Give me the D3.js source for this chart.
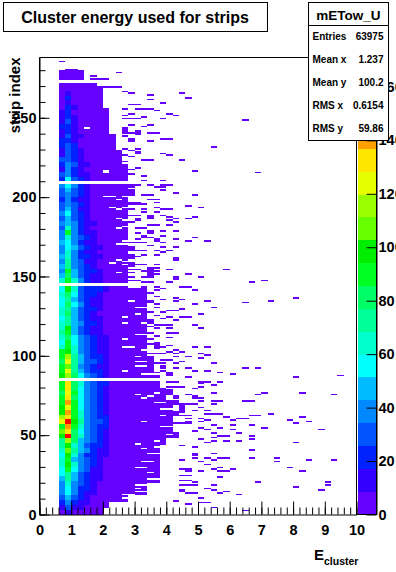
<!DOCTYPE html>
<html>
<head>
<meta charset="utf-8">
<style>
  body { margin: 0; background: #fff; overflow: hidden; }
  text { font-family: "Liberation Sans", Arial, sans-serif; font-weight: bold; fill: #000; }
</style>
<script src="https://cdn.jsdelivr.net/npm/d3@7"></script>
</head>
<body>
<div id="chart"></div>
<script type="text/javascript">
  var titleText = "Cluster energy used for strips";
  var statsName = "mETow_U";
  var statsLabels = ["Entries", "Mean x", "Mean y", "RMS x", "RMS y"];
  var statsValues = ["63975", "1.237", "100.2", "0.6154", "59.86"];

  var binE = 0.2;          // energy width of one bin
  var maxE = 10;
  var maxStrip = 288;
  var maxZ = 171;
  var baseZ = 4;           // counts of the violet fringe cells

  var xTicks = [0, 1, 2, 3, 4, 5, 6, 7, 8, 9, 10];
  var yTicks = [0, 50, 100, 150, 200, 250];
  var zTicks = [0, 20, 40, 60, 80, 100, 120, 140, 160];

  var palette = ["#6600ff", "#3300ff", "#0022ff", "#0055ff", "#0088ff", "#00bbff", "#00ffff",
    "#00ffcc", "#00ff99", "#00ff66", "#00ff22", "#00ee00", "#66ff00", "#99ff00",
    "#e6ff00", "#ffe600", "#ffa000", "#ff7000", "#ff4000", "#ff0000"];

  var emptyStrips = [84, 85, 144, 145, 208, 209, 272, 273];

  // first strip of each band of the dense part
  var coreStrips = [0, 3, 6, 9, 12, 15, 18, 21, 24, 27, 30, 33, 36, 39, 42, 45, 48, 51, 54, 57, 60, 63, 66, 69, 72, 75, 78, 81,
    86, 89, 92, 95, 98, 101, 104, 107, 110, 113, 116, 119, 122, 125, 128, 131, 134, 137, 140,
    146, 149, 152, 155, 158, 161, 164, 167, 170, 173, 176, 179, 182, 185, 188, 191, 194, 197, 200, 203, 206,
    210, 213, 216, 219, 222, 225, 228, 231, 234, 237, 240, 243, 246, 249, 252, 255, 258, 261, 264, 267, 274];

  // counts per band for the energy bins 0.6, 0.8 ... 2.0
  var coreZ = [
    [4,12,4,4,4,4,4,4], [12,30,12,12,4,4,4,4], [20,40,20,12,12,4,4,4], [30,50,30,20,12,4,4,4],
    [38,58,38,20,12,12,4,4], [38,58,38,20,20,12,4,4], [42,65,42,30,20,12,4,4], [50,72,48,30,20,12,12,4],
    [58,72,50,30,20,12,12,4], [58,90,58,38,30,12,12,4], [64,98,64,38,30,20,12,4], [64,90,50,38,30,20,12,4],
    [58,98,64,38,20,20,12,12], [64,106,72,50,38,20,12,12], [72,98,64,50,30,20,20,12], [72,115,81,50,38,30,20,12],
    [98,166,81,64,38,30,20,12], [106,132,81,55,42,30,20,12], [90,141,90,64,42,30,20,20], [124,166,98,72,42,30,30,20],
    [115,132,90,64,42,30,20,20], [98,141,90,64,42,30,20,12], [98,124,90,55,42,30,20,12], [90,141,90,55,42,30,20,12],
    [90,132,81,58,42,30,20,12], [81,124,90,58,38,30,20,12], [90,132,81,55,42,30,20,12], [90,132,81,64,42,30,20,20],
    [98,115,81,55,38,30,20,12], [90,124,72,50,30,20,20,12], [90,106,72,42,30,20,12,12], [81,124,72,50,30,30,20,12],
    [90,115,72,50,30,20,20,12], [90,98,64,42,30,20,12,12], [64,90,64,42,30,20,12,12], [55,90,58,42,30,20,12,12],
    [64,81,58,38,30,20,12,12], [72,90,50,30,20,12,12,4], [64,98,50,30,20,12,12,4], [64,72,50,38,20,20,12,4],
    [58,72,50,30,20,12,12,4], [64,81,50,30,20,12,4,4], [64,72,50,30,20,20,12,4], [55,81,58,38,20,12,12,4],
    [58,72,50,30,20,12,12,4], [64,81,58,30,20,20,12,4], [55,98,64,30,20,20,20,12],
    [64,90,64,38,20,12,12,4], [50,81,50,30,20,12,12,4], [42,90,50,30,20,20,12,4], [50,72,42,30,20,12,4,4],
    [42,72,42,30,12,12,4,4], [50,64,42,20,20,12,12,4], [42,64,42,20,12,12,4,4], [38,58,50,30,20,12,12,4],
    [50,55,42,20,12,12,4,4], [42,64,42,30,20,12,4,4], [42,90,38,20,12,12,4,4], [30,64,38,20,12,4,4,4],
    [38,50,38,20,12,12,4,4], [30,50,30,20,12,4,4,4], [38,55,30,20,12,4,4,4], [30,50,30,12,12,4,4,4],
    [30,42,30,20,12,4,4,4], [20,42,20,12,12,4,4,4], [30,42,30,20,12,4,4,4], [30,50,30,20,12,4,4,4], [38,55,38,20,12,4,4,4],
    [20,55,30,20,12,4,4,4], [30,38,20,12,12,4,4,4], [12,38,20,12,4,4,4,4], [20,42,30,12,12,4,4,4],
    [30,30,20,12,4,4,4,4], [12,30,20,12,4,4,4,4], [12,30,20,12,4,4,4,4], [20,30,20,4,4,4,4,4],
    [20,20,12,4,4,4,4,4], [12,30,12,12,4,4,4,4], [12,20,12,4,4,4,4,4], [20,20,12,4,4,4,4,4],
    [12,30,12,4,4,4,4,4], [12,20,12,4,4,4,4,4], [12,20,4,4,4,4,4,4], [4,20,12,4,4,4,4,4],
    [4,12,4,4,4,4,4,4], [4,20,4,4,4,4,4,4], [4,12,4,4,4,4,4,4], [4,4,4,4,4,4,4,4], [4,4,4,4,4,4,4,4]
  ];
  var firstCoreBin = 3;

  // last solidly filled energy bin, by strip band
  var reachStrips = [0, 4, 8, 12, 20, 28, 44, 48, 52, 72, 80, 86, 100, 146, 210, 220, 230, 240, 256, 270, 274];
  var reachBins = [9, 10, 13, 16, 18, 18, 19, 21, 20, 19, 18, 17, 16, 13, 13, 12, 11, 10, 9, 8, 6];

  // white holes inside the solid part: [strip, bins...]
  var holes = [
    [243, 7], [216, 10], [215, 10], [200, 10, 11], [198, 12], [192, 12], [186, 12], [193, 11], [180, 12],
    [170, 12], [160, 12], [158, 11], [152, 12], [200, 13], [193, 13], [185, 13], [181, 13], [172, 13], [170, 13],
    [159, 13], [157, 13], [143, 14, 15], [134, 14], [130, 15, 16], [126, 15], [124, 13], [120, 13, 16], [113, 15, 16],
    [110, 13], [105, 13, 14], [103, 16], [99, 15], [96, 15, 16], [93, 15, 16], [90, 13], [88, 16, 17],
    [76, 18], [75, 15], [74, 17], [73, 16], [70, 18, 19], [66, 19, 20], [62, 19], [58, 16], [55, 19, 20], [50, 20],
    [46, 18], [44, 15], [42, 18], [41, 16], [38, 17, 18], [33, 16, 17], [29, 15, 16], [26, 17], [22, 17, 18],
    [18, 15, 16], [16, 15], [14, 15, 16], [12, 13, 14], [10, 13]
  ];

  // isolated cells outside the solid part: [strip, bins...]
  var specks = [
    [285, 3], [280, 4, 5], [278, 12], [276, 8], [274, 8, 9, 10],
    [269, 9, 10, 11, 12], [266, 13], [265, 14, 22], [264, 17], [262, 23], [261, 17], [259, 19], [258, 14, 15],
    [255, 13, 15, 16, 17], [254, 18], [252, 14, 20], [251, 13, 21], [250, 16], [249, 13, 14, 15, 19], [248, 32],
    [245, 14, 17], [244, 16], [243, 13], [242, 13], [241, 13, 15], [240, 13, 14, 15, 17, 18], [239, 15], [238, 13],
    [236, 14, 19, 20], [235, 14, 17], [231, 27], [230, 13, 15], [229, 14], [228, 15], [227, 15, 19], [226, 13, 20],
    [225, 14], [223, 16, 17, 22], [222, 13], [220, 13], [219, 13], [218, 13, 15], [217, 13, 14], [216, 13, 24],
    [215, 13, 34], [214, 13, 14], [213, 16], [210, 16, 19], [207, 14, 15, 17, 19, 20], [206, 14, 18, 19],
    [204, 14, 19], [203, 14], [202, 14, 21], [201, 14, 16, 17, 24], [198, 17, 18],
    [196, 14, 15, 18], [195, 14, 15, 16], [194, 23], [193, 18, 25], [192, 14, 16, 19, 20], [190, 16, 18],
    [188, 14, 15, 17, 19], [187, 17, 20, 24], [186, 15, 17, 21, 23], [185, 15, 20], [184, 14, 21],
    [182, 17, 18, 20], [180, 15, 16], [178, 17, 19, 21], [177, 15, 17],
    [175, 16, 19], [174, 16, 17, 24], [173, 15, 18, 21], [172, 18, 23, 26], [171, 14, 15, 16, 19], [169, 17],
    [168, 14, 19, 21], [167, 14], [166, 14, 15, 16, 18, 20], [165, 19], [163, 14, 16, 18],
    [162, 14, 15], [161, 14, 21], [160, 21], [158, 14], [157, 14, 15, 16, 18], [156, 14], [155, 17, 18],
    [154, 14, 15, 17, 20, 29], [153, 16, 17, 18], [152, 14, 17], [151, 17, 18, 23], [150, 17],
    [149, 14, 16, 17, 21, 25], [148, 21], [147, 14, 15, 35], [146, 16, 17, 20, 33],
    [143, 16, 18, 22, 23], [142, 19], [141, 18, 24], [139, 17], [137, 18], [136, 21, 40], [135, 19, 22],
    [134, 17, 21, 26, 36], [133, 17, 32], [132, 18, 24], [130, 18, 27], [129, 22], [128, 20, 21], [127, 17, 19],
    [126, 25], [125, 18], [124, 20, 22, 23], [123, 19], [122, 17, 21], [121, 17], [120, 17], [119, 18, 19, 20, 24],
    [118, 17], [117, 18, 20, 25], [114, 17, 20, 21], [112, 18], [111, 20], [110, 17],
    [108, 18], [107, 17, 18], [106, 18, 20], [105, 18, 19, 24, 26], [104, 18], [103, 21], [102, 20, 22],
    [101, 17, 18, 19, 21, 25], [100, 26], [99, 21, 23], [98, 17, 25], [97, 19, 20], [96, 22],
    [95, 18, 19, 21, 27], [93, 19], [92, 19, 21, 23, 32, 34], [90, 19, 24, 26],
    [89, 18, 20, 28], [88, 20, 30], [87, 18, 20, 47], [86, 18, 23, 40],
    [83, 20, 21, 25, 26, 28], [82, 25], [81, 27], [80, 20, 21, 22, 25], [79, 24], [78, 20],
    [77, 20], [76, 20, 27, 35, 41], [75, 20, 23, 34, 46], [74, 21, 24], [73, 21, 24, 25],
    [71, 21, 25, 27, 28, 32, 33], [70, 21], [69, 21, 22, 23, 24, 27], [68, 22], [67, 22, 25], [66, 22], [65, 22, 24, 26],
    [64, 21, 22], [63, 21, 26, 27, 28, 36], [62, 21, 22, 23, 33, 34], [61, 29, 41], [60, 23, 25, 31, 32], [59, 26, 30, 39],
    [58, 23, 25, 42], [57, 21, 22, 23, 40], [56, 27, 30, 33], [54, 25, 28, 35], [53, 26, 30, 44], [52, 24], [51, 27, 31],
    [49, 28, 29, 33], [48, 27], [47, 25, 33], [46, 27, 29, 31], [45, 26, 40], [43, 22], [42, 24], [40, 33],
    [38, 24, 27], [37, 24], [35, 24, 26, 28, 29, 33, 37], [34, 22, 27, 42, 46], [33, 25, 37], [31, 26], [29, 28, 39],
    [28, 22, 23, 27, 30], [27, 23, 25, 28, 29, 41], [24, 22, 23], [23, 28], [21, 22, 23], [20, 24, 34, 45],
    [18, 22, 23, 24, 27, 45], [17, 40], [16, 26], [15, 22, 27, 44], [14, 22, 29], [13, 23, 24, 28], [12, 31],
    [10, 25], [8, 21], [7, 25, 26], [6, 23], [4, 27], [2, 32]
  ];

  var width = 396, height = 572;
  var margin = {top: 57.5, right: 356.5, bottom: 514.5, left: 39.5};

  var svg = d3.select("#chart").append("svg")
      .attr("width", width)
      .attr("height", height)
      .style("display", "block");

  var x = d3.scaleLinear().domain([0, maxE]).range([margin.left, margin.right]);
  var y = d3.scaleLinear().domain([0, maxStrip]).range([margin.bottom, margin.top]);
  var z = d3.scaleLinear().domain([0, maxZ]).range([margin.bottom, margin.top]);
  var colour = d3.scaleQuantize().domain([0, maxZ]).range(palette);

  // build the list of filled cells
  var holeSet = new Set();
  holes.forEach(function(h) {
    h.slice(1).forEach(function(b) { holeSet.add(h[0] + ":" + b); });
  });

  var cells = [];
  var bandOf = d3.bisector(function(d) { return d; }).right;
  for (var s = 0; s < coreStrips[coreStrips.length - 1] + 6; s++) {
    if (emptyStrips.indexOf(s) >= 0) continue;
    var band = bandOf(coreStrips, s) - 1;
    var reach = reachBins[bandOf(reachStrips, s) - 1];
    for (var b = firstCoreBin; b <= reach; b++) {
      if (holeSet.has(s + ":" + b)) continue;
      var row = coreZ[band];
      var k = b - firstCoreBin;
      cells.push({bin: b, strip: s, count: k < row.length ? row[k] : baseZ});
    }
  }
  specks.forEach(function(p) {
    p.slice(1).forEach(function(b) { cells.push({bin: b, strip: p[0], count: baseZ}); });
  });

  svg.append("g")
      .attr("shape-rendering", "crispEdges")
      .selectAll("rect")
      .data(cells)
      .join("rect")
      .attr("x", function(d) { return x(d.bin * binE); })
      .attr("width", function(d) { return x((d.bin + 1) * binE) - x(d.bin * binE); })
      .attr("y", function(d) { return y(d.strip + 1); })
      .attr("height", function(d) { return y(d.strip) - y(d.strip + 1); })
      .attr("fill", function(d) { return colour(d.count); });

  // colour bar
  var step = maxZ / palette.length;
  svg.append("g")
      .attr("shape-rendering", "crispEdges")
      .selectAll("rect")
      .data(palette)
      .join("rect")
      .attr("x", 357.5)
      .attr("width", 18.5)
      .attr("y", function(d, i) { return z((i + 1) * step); })
      .attr("height", function(d, i) { return z(i * step) - z((i + 1) * step); })
      .attr("fill", function(d) { return d; });

  // axes
  var minorX = d3.range(0, 51).map(function(i) { return i * binE; });
  var minorY = d3.range(0, 29).map(function(i) { return i * 10; });

  svg.append("g")
      .attr("transform", "translate(0," + margin.bottom + ")")
      .call(d3.axisBottom(x).tickValues(minorX).tickSize(-7).tickFormat(""))
      .call(function(g) { g.select(".domain").remove(); });
  svg.append("g").attr("class", "axis")
      .attr("transform", "translate(0," + margin.bottom + ")")
      .call(d3.axisBottom(x).tickValues(xTicks).tickSizeInner(-13).tickSizeOuter(0).tickPadding(10).tickFormat(d3.format("d")));

  svg.append("g")
      .attr("transform", "translate(" + margin.left + ",0)")
      .call(d3.axisLeft(y).tickValues(minorY).tickSize(-6).tickFormat(""))
      .call(function(g) { g.select(".domain").remove(); });
  svg.append("g").attr("class", "axis")
      .attr("transform", "translate(" + margin.left + ",0)")
      .call(d3.axisLeft(y).tickValues(yTicks).tickSizeInner(-10).tickSizeOuter(0).tickPadding(3).tickFormat(d3.format("d")));

  svg.append("g").attr("class", "axis")
      .attr("transform", "translate(376.5,0)")
      .call(d3.axisRight(z).tickValues(zTicks).tickSizeInner(-10).tickSizeOuter(0).tickPadding(2).tickFormat(d3.format("d")));

  svg.selectAll(".axis text").style("font-size", "14.5px").style("font-family", "Liberation Sans").style("font-weight", "bold");

  // frame
  svg.append("path")
      .attr("fill", "none")
      .attr("stroke", "#000")
      .attr("d", "M" + margin.left + "," + margin.bottom + "V" + margin.top + "H" + margin.right + "V" + margin.bottom + "H376.5V" + margin.top);

  // axis titles
  svg.append("text")
      .attr("transform", "translate(19.5," + margin.top + ") rotate(-90)")
      .attr("text-anchor", "end")
      .style("font-size", "15px")
      .text("strip index");
  var xTitle = svg.append("text").attr("x", 314).attr("y", 560).style("font-size", "15px");
  xTitle.append("tspan").text("E");
  xTitle.append("tspan").attr("dy", 5).style("font-size", "10.5px").text("cluster");

  // title box
  svg.append("rect")
      .attr("x", 3.5).attr("y", 2.5).attr("width", 264).attr("height", 29)
      .attr("fill", "#fff").attr("stroke", "#000");
  svg.append("text")
      .attr("x", 135).attr("y", 23)
      .attr("text-anchor", "middle")
      .style("font-size", "16px")
      .text(titleText);

  // stats box
  svg.append("rect")
      .attr("x", 308.5).attr("y", 2.5).attr("width", 80).attr("height", 138)
      .attr("fill", "#fff").attr("stroke", "#000");
  svg.append("line")
      .attr("x1", 308.5).attr("x2", 388.5).attr("y1", 25.5).attr("y2", 25.5)
      .attr("stroke", "#000");
  svg.append("text")
      .attr("x", 348.5).attr("y", 19.5)
      .attr("text-anchor", "middle")
      .style("font-size", "13.5px")
      .text(statsName);

  var statsY = d3.scalePoint().domain(statsLabels).range([40, 132]);
  svg.append("g").selectAll("text")
      .data(statsLabels)
      .join("text")
      .attr("x", 312.5)
      .attr("y", function(d) { return statsY(d); })
      .style("font-size", "10px")
      .text(function(d) { return d; });
  svg.append("g").selectAll("text")
      .data(statsValues)
      .join("text")
      .attr("x", 383.5)
      .attr("y", function(d, i) { return statsY(statsLabels[i]); })
      .attr("text-anchor", "end")
      .style("font-size", "10px")
      .text(function(d) { return d; });
</script>
</body>
</html>
